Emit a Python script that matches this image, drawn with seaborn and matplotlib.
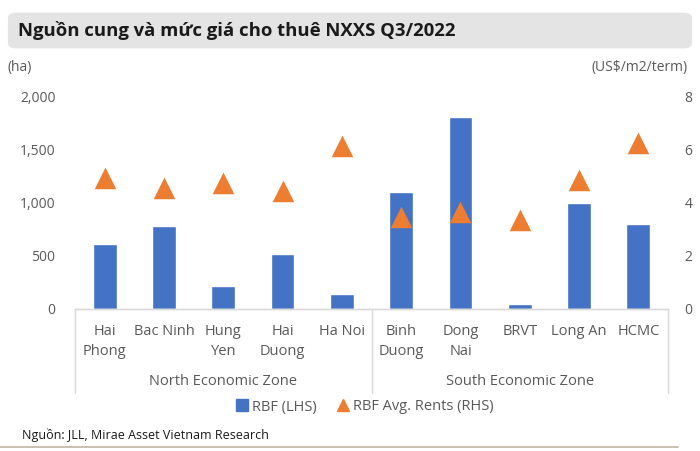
import pandas as pd
import seaborn as sns
import matplotlib.pyplot as plt
from matplotlib.patches import FancyBboxPatch
from matplotlib.lines import Line2D
import matplotlib.transforms as mtransforms

# data
provinces = ["Hai Phong", "Bac Ninh", "Hung Yen", "Hai Duong", "Ha Noi",
             "Binh Duong", "Dong Nai", "BRVT", "Long An", "HCMC"]
tick_labels = ["Hai\nPhong", "Bac Ninh", "Hung\nYen", "Hai\nDuong", "Ha Noi",
               "Binh\nDuong", "Dong\nNai", "BRVT", "Long An", "HCMC"]
zones = ["North Economic Zone"] * 5 + ["South Economic Zone"] * 5
rbf_supply = [610, 780, 220, 520, 140, 1100, 1800, 50, 1000, 800]
rbf_rents = [4.9, 4.5, 4.7, 4.4, 6.1, 3.4, 3.6, 3.3, 4.8, 6.2]
left_ticks = [0, 500, 1000, 1500, 2000]
right_ticks = [0, 2, 4, 6, 8]

df = pd.DataFrame({"province": provinces, "zone": zones,
                   "supply": rbf_supply, "rent": rbf_rents})

BLUE = "#4472C4"
ORANGE = "#ED7D31"
GREY_TXT = "#595959"
AXIS_GREY = "#D9D9D9"

sns.set_style("white")
plt.rcParams["font.family"] = ["Open Sans", "DejaVu Sans"]

fig = plt.figure(figsize=(7, 4.51), dpi=100)
ax = fig.add_axes([75 / 700, 1 - 309 / 451, 593 / 700, 213 / 451])

# bars (left axis)
sns.barplot(data=df, x="province", y="supply", order=provinces,
            color=BLUE, width=0.4, saturation=1, ax=ax)
ax.set_ylim(0, 2000)
ax.set_xlim(-0.5, len(provinces) - 0.5)

# triangles (right axis)
ax2 = ax.twinx()
sns.pointplot(data=df, x="province", y="rent", order=provinces,
              linestyle="none", markers="^", color=ORANGE, errorbar=None,
              markersize=12, markeredgewidth=2.5, ax=ax2)
for ln in ax2.lines:
    ln.set_markeredgecolor(ORANGE)
    ln.set_solid_joinstyle("round")
    ln.set_dash_joinstyle("round")
ax2.set_ylim(0, 8)
ax2.set_xlim(-0.5, len(provinces) - 0.5)

for a in (ax, ax2):
    for side in ("top", "left", "right"):
        a.spines[side].set_visible(False)
    a.spines["bottom"].set_color(AXIS_GREY)
    a.spines["bottom"].set_linewidth(1)
    a.set_xlabel("")
    a.set_ylabel("")
    a.grid(False)

ax.set_yticks(left_ticks)
ax.set_yticklabels([f"{v:,}" for v in left_ticks])
ax.tick_params(axis="y", length=0, pad=14, labelsize=10, labelcolor=GREY_TXT)
ax2.set_yticks(right_ticks)
ax2.set_yticklabels([str(v) for v in right_ticks])
ax2.tick_params(axis="y", length=0, pad=12, labelsize=10, labelcolor=GREY_TXT)

ax.set_xticks(range(len(provinces)))
ax.set_xticklabels(tick_labels, linespacing=1.45)
ax.tick_params(axis="x", length=0, pad=11, labelsize=10.5, labelcolor=GREY_TXT)
ax2.tick_params(axis="x", length=0, labelbottom=False)

# group separators and zone labels below the axis
trans = mtransforms.blended_transform_factory(ax.transData, ax.transAxes)
for xpos in (-0.5, 4.5, 9.5):
    ax.add_line(Line2D([xpos, xpos], [0, -84 / 213], transform=trans,
                       color=AXIS_GREY, lw=1, clip_on=False))
for zone, xc in (("North Economic Zone", 2), ("South Economic Zone", 7)):
    ax.text(xc, -72 / 213, zone, transform=trans, ha="center", va="center",
            fontsize=10.5, color=GREY_TXT)

# title box
fig.patches.append(FancyBboxPatch((10 / 700, 1 - 47 / 451), 680 / 700, 33 / 451,
                                  boxstyle="round,pad=0.003,rounding_size=0.012",
                                  transform=fig.transFigure, facecolor="#E4E4E4",
                                  edgecolor="none", zorder=0))
fig.text(18 / 700, 1 - 30 / 451, "Nguồn cung và mức giá cho thuê NXXS Q3/2022",
         ha="left", va="center", fontsize=13.3, fontweight="bold", color="#1a1a1a")

fig.text(8 / 700, 1 - 68 / 451, "(ha)", ha="left", va="center",
         fontsize=10, color=GREY_TXT)
fig.text(688 / 700, 1 - 68 / 451, "(US$/m2/term)", ha="right", va="center",
         fontsize=10, color=GREY_TXT)

# legend
handles = [Line2D([], [], linestyle="none", marker="s", markersize=8,
                  color=BLUE),
           Line2D([], [], linestyle="none", marker="^", markersize=9,
                  color=ORANGE)]
fig.legend(handles, ["RBF (LHS)", "RBF Avg. Rents (RHS)"], ncol=2,
           loc="center", bbox_to_anchor=(365 / 700, 1 - 407 / 451),
           frameon=False, fontsize=10.5, handlelength=0.8, handletextpad=0.3,
           columnspacing=1.4, labelcolor=GREY_TXT)

fig.text(22 / 700, 1 - 435 / 451, "Nguồn: JLL, Mirae Asset Vietnam Research",
         ha="left", va="center", fontsize=9, color="#1a1a1a")
fig.add_artist(Line2D([0, 678 / 700], [1 - 447 / 451, 1 - 447 / 451],
                      transform=fig.transFigure, color="#BFB6A5", lw=1.2))

fig.savefig("out.png", dpi=100)
